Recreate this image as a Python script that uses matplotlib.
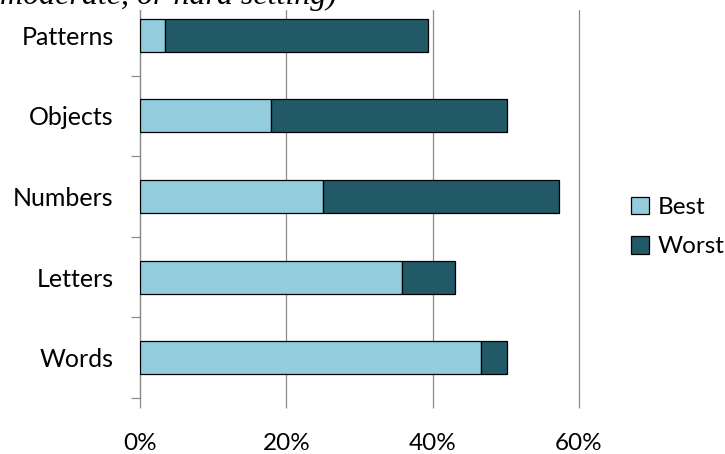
import matplotlib.pyplot as plt
from matplotlib.patches import Rectangle
import numpy as np

# share of each task type rated best / worst (percent)
categories = ["Words", "Letters", "Numbers", "Objects", "Patterns"]
best = [46.6, 35.8, 25.0, 17.9, 3.4]
worst = [3.5, 7.2, 32.3, 32.2, 36.0]
xticks = [0, 20, 40, 60]

plt.rcParams['font.family'] = ['Lato', 'DejaVu Sans']
grid_col = "#8c8c8c"

fig = plt.figure(figsize=(7.25, 4.54), dpi=100)
# plot area runs a little past the top edge of the figure
ax = fig.add_axes([140/725, 1 - 398/454, (579 - 140)/725, (398 + 5)/454])

y = np.arange(len(categories))
ax.barh(y, best, height=0.41, color="#93CDDD", edgecolor="black", linewidth=0.9,
        label="Best", zorder=3)
ax.barh(y, worst, left=best, height=0.41, color="#215967", edgecolor="black",
        linewidth=0.9, label="Worst", zorder=3)

ax.set_xlim(0, 60)
ax.set_ylim(-0.5, len(categories) - 0.5)
ax.set_xticks(xticks)
ax.set_xticklabels([f"{v}%" for v in xticks], fontsize=17.5)
ax.set_yticks(y)
ax.set_yticklabels(categories, fontsize=18)
ax.set_yticks(np.arange(-0.5, len(categories)), minor=True)

ax.xaxis.grid(True, color=grid_col, linewidth=0.9, zorder=0)
for gl in ax.get_xgridlines():
    gl.set_clip_on(False)
ax.tick_params(axis="x", length=7.2, color=grid_col, width=0.9, pad=18)
ax.tick_params(axis="y", which="major", length=0, pad=19)
ax.tick_params(axis="y", which="minor", length=6.5, color=grid_col, width=0.9)

for side in ["top", "right", "bottom"]:
    ax.spines[side].set_visible(False)
ax.spines["left"].set_color(grid_col)
ax.spines["left"].set_linewidth(0.9)

fig.legend(loc="center left", bbox_to_anchor=(631/725, 1 - 227/454), frameon=False,
           fontsize=17.5, handlelength=0.75, handleheight=0.75, handletextpad=0.35,
           labelspacing=0.75, borderpad=0, borderaxespad=0)

# caption strip at the top, partly outside the page
fig.patches.append(Rectangle((0, 1 - 10/454), 1, 10/454, transform=fig.transFigure,
                             facecolor="white", edgecolor="none", zorder=5))
fig.text(0.0, 1.0 + 4/454, "moderate, or hard setting)", fontsize=23,
         family="Liberation Serif", style="italic", va="center", ha="left", zorder=6)

fig.savefig("out.png", dpi=100)
